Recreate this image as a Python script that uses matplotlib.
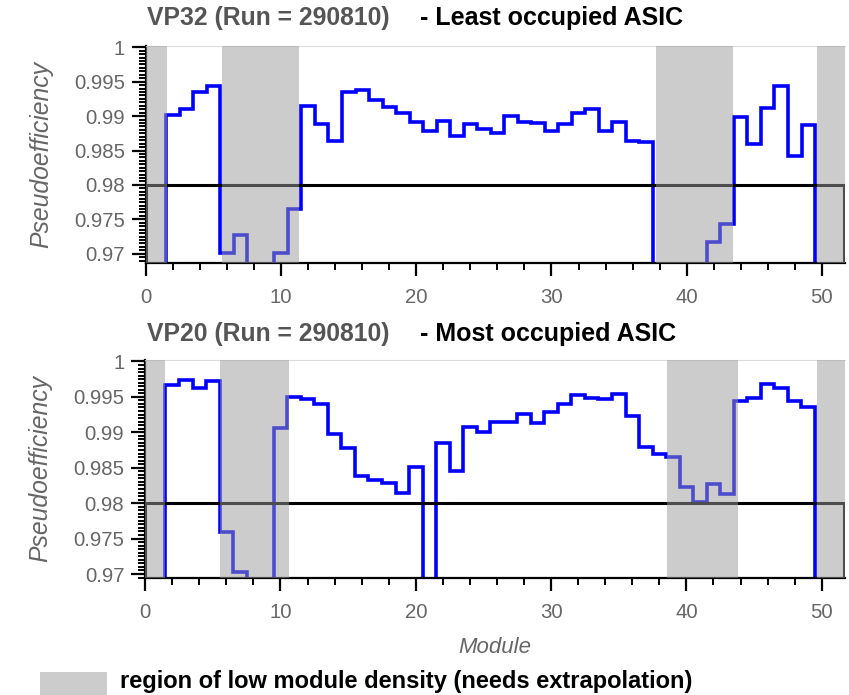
import numpy as np
import matplotlib.pyplot as plt
from matplotlib.patches import Rectangle
from matplotlib.ticker import MultipleLocator

plt.rcParams['font.family'] = ['Liberation Sans', 'DejaVu Sans']

# module numbers 0..51, one pseudoefficiency value per module
modules = np.arange(52)
# values below the visible range are plotted as 0.96
vp32_eff = [0.96, 0.96, 0.9902, 0.9911, 0.9935, 0.9943, 0.9701, 0.9727, 0.96, 0.96,
            0.9701, 0.9765, 0.9915, 0.9888, 0.9864, 0.9935, 0.9938, 0.9924, 0.9913, 0.9905,
            0.9892, 0.9878, 0.9893, 0.9871, 0.9888, 0.9881, 0.9876, 0.9900, 0.9892, 0.9890,
            0.9878, 0.9888, 0.9904, 0.9910, 0.9878, 0.9892, 0.9864, 0.9863, 0.96, 0.96,
            0.96, 0.96, 0.9717, 0.9743, 0.9898, 0.9860, 0.9912, 0.9943, 0.9842, 0.9887,
            0.96, 0.96]
vp20_eff = [0.96, 0.96, 0.9967, 0.9974, 0.9962, 0.9972, 0.9759, 0.9703, 0.96, 0.96,
            0.9906, 0.9950, 0.9947, 0.9940, 0.9898, 0.9878, 0.9838, 0.9833, 0.9829, 0.9815,
            0.9851, 0.96, 0.9885, 0.9845, 0.9908, 0.9901, 0.9915, 0.9915, 0.9926, 0.9913,
            0.9929, 0.9940, 0.9953, 0.9948, 0.9947, 0.9954, 0.9923, 0.9879, 0.9870, 0.9865,
            0.9823, 0.9802, 0.9827, 0.9813, 0.9944, 0.9948, 0.9968, 0.9962, 0.9944, 0.9935,
            0.96, 0.96]

# low module density regions (start, end)
vp32_low = [(0, 1.55), (5.6, 11.35), (37.7, 43.4), (49.65, 51.7)]
vp20_low = [(0, 1.5), (5.5, 10.6), (38.6, 43.8), (49.65, 51.7)]

threshold = 0.98
xmax = 51.7
grey = '#666666'

fig = plt.figure(figsize=(8.49, 6.95), dpi=100)
ax1 = fig.add_axes([0.172, 0.621, 0.823, 0.313])
ax2 = fig.add_axes([0.171, 0.169, 0.824, 0.313])


def draw_panel(ax, eff, low, ymin):
    edges = np.append(modules - 0.5, modules[-1] + 0.5)
    ax.stairs(eff, edges, color='blue', lw=2.6, baseline=None, zorder=2)
    # threshold box
    ax.add_patch(Rectangle((0, ymin - 0.01), xmax - 0.03, threshold - ymin + 0.01,
                           fill=False, ec='black', lw=2.2, zorder=3))
    for a, b in low:
        ax.axvspan(a, b, color='#9a9a9a', alpha=0.5, lw=0, zorder=4)
    ax.set_xlim(0, xmax)
    ax.set_ylim(ymin, 1.0002)
    ax.set_yticks([0.97, 0.975, 0.98, 0.985, 0.99, 0.995, 1])
    ax.set_yticklabels(['0.97', '0.975', '0.98', '0.985', '0.99', '0.995', '1'])
    ax.yaxis.set_minor_locator(MultipleLocator(0.0005))
    ax.xaxis.set_major_locator(MultipleLocator(10))
    ax.xaxis.set_minor_locator(MultipleLocator(2))
    ax.tick_params(which='major', direction='out', length=9, width=1.6,
                   labelsize=14.7, labelcolor=grey, color='black')
    ax.tick_params(which='minor', direction='out', length=5, width=1.4, color='black')
    ax.tick_params(axis='y', which='major', length=10, pad=5)
    ax.tick_params(axis='x', which='major', pad=9)
    ax.spines['right'].set_visible(False)
    ax.spines['top'].set_color('#dddddd')
    ax.spines['left'].set_linewidth(1.6)
    ax.spines['bottom'].set_linewidth(1.6)
    ax.set_ylabel('Pseudoefficiency', fontsize=17.8, style='italic', color=grey, labelpad=15)


draw_panel(ax1, vp32_eff, vp32_low, 0.9686)
draw_panel(ax2, vp20_eff, vp20_low, 0.9695)
ax2.set_xlabel('Module', fontsize=16, style='italic', color=grey, labelpad=11,
               family=['Liberation Sans Narrow', 'Liberation Sans', 'DejaVu Sans'])

# panel titles
fig.text(0.173, 0.974, 'VP32 (Run = 290810)', fontsize=17.8, weight='bold', color='#555555', va='center')
fig.text(0.495, 0.974, '- Least occupied ASIC', fontsize=18, weight='bold', color='black', va='center')
fig.text(0.173, 0.519, 'VP20 (Run = 290810)', fontsize=17.8, weight='bold', color='#555555', va='center')
fig.text(0.495, 0.519, '- Most occupied ASIC', fontsize=18, weight='bold', color='black', va='center')

# legend for the grey bands
fig.patches.append(Rectangle((0.047, 0.0), 0.079, 0.033, transform=fig.transFigure,
                             color='#cccccc', lw=0))
fig.text(0.141, 0.0095, 'region of low module density (needs extrapolation)',
         fontsize=17, weight='bold', color='black', va='baseline')

plt.savefig('out.png', dpi=100)
